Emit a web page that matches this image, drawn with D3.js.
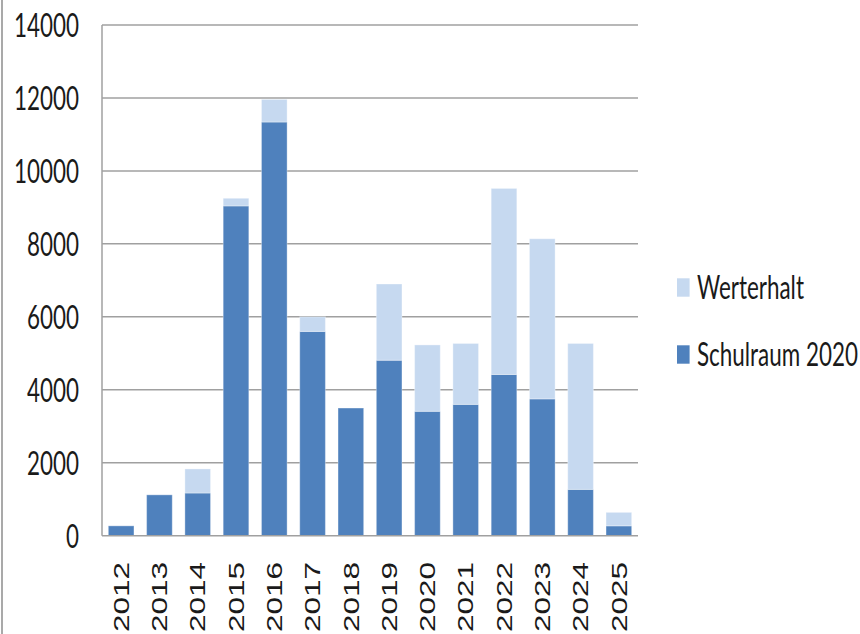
<!DOCTYPE html>
<html><head><meta charset="utf-8">
<script src="https://cdn.jsdelivr.net/npm/d3@7"></script>
<style>body{margin:0;background:#fff}svg{display:block}</style>
</head><body>
<script>
const categories = ["2012","2013","2014","2015","2016","2017","2018","2019","2020","2021","2022","2023","2024","2025"];
const schulraum = [270,1120,1170,9040,11340,5600,3500,4810,3410,3600,4420,3750,1270,270];
const werterhalt = [0,0,660,210,620,400,0,2090,1820,1670,5100,4390,4000,370];
const seriesNames = ["Schulraum 2020","Werterhalt"];
const yTicks = [0,2000,4000,6000,8000,10000,12000,14000];

const W = 860, H = 634;
const SX = 0.68;
const svg = d3.select("body").append("svg").attr("width", W).attr("height", H);

svg.append("line").attr("x1",2).attr("x2",2).attr("y1",0).attr("y2",H)
  .attr("stroke","#8c8c8c").attr("stroke-width",1.5);

const m = {l:102, r:638, t:25, b:535.7};
const x = d3.scaleBand().domain(categories).range([m.l, m.r]).paddingInner(0.33).paddingOuter(0.165);
const y = d3.scaleLinear().domain([0,14000]).range([m.b, m.t]);

// gridlines
svg.append("g").selectAll("line").data(yTicks.filter(d=>d>0)).join("line")
  .attr("x1", m.l).attr("x2", m.r).attr("y1", d=>y(d)).attr("y2", d=>y(d))
  .attr("stroke","#a0a0a0").attr("stroke-width",1.5);

// y axis
svg.append("line").attr("x1",m.l).attr("x2",m.l).attr("y1",m.t).attr("y2",m.b)
  .attr("stroke","#a0a0a0").attr("stroke-width",1.5);

const ylab = svg.append("g").selectAll("g").data(yTicks).join("g")
  .attr("transform", d=>`translate(79,${y(d)}) scale(${SX},1)`);
ylab.append("text").text(d=>d)
  .attr("text-anchor","end").attr("dy","0.36em")
  .attr("font-family","Lato, 'Liberation Sans', sans-serif").attr("font-size",33)
  .attr("fill","#1a1a1a");

// stacked bars
const data = categories.map((c,i)=>({cat:c, "Schulraum 2020":schulraum[i], "Werterhalt":werterhalt[i]}));
const stack = d3.stack().keys(seriesNames)(data);
const colors = {"Schulraum 2020":"#4f81bd","Werterhalt":"#c6d9f0"};
svg.append("g").selectAll("g").data(stack).join("g")
  .attr("fill", s=>colors[s.key])
  .selectAll("rect").data(s=>s.filter(d=>d[1]-d[0]>0)).join("rect")
  .attr("x", d=>x(d.data.cat)).attr("width", x.bandwidth())
  .attr("y", d=>y(d[1])).attr("height", d=>y(d[0])-y(d[1]))
  .attr("stroke", "rgba(255,255,255,0.35)").attr("stroke-width",1);

// x axis line
svg.append("line").attr("x1",m.l).attr("x2",m.r).attr("y1",m.b).attr("y2",m.b)
  .attr("stroke","#a0a0a0").attr("stroke-width",1.5);

// x labels
const xl = svg.append("g").selectAll("g").data(categories).join("g")
  .attr("transform", d=>`translate(${x(d)+x.bandwidth()/2},562) scale(${SX},1) rotate(-90)`);
xl.append("text").text(d=>d)
  .attr("text-anchor","end").attr("dy","0.36em")
  .attr("font-family","'Liberation Sans', Arial, sans-serif").attr("font-size",31.5)
  .attr("fill","#1a1a1a");

// legend
const legendItems = ["Werterhalt","Schulraum 2020"];
const lg = svg.append("g").selectAll("g").data(legendItems).join("g")
  .attr("transform",(d,i)=>`translate(677,${287.5 + i*67})`);
lg.append("rect").attr("x",0).attr("y",-9.2).attr("width",12.6).attr("height",18.4)
  .attr("fill", d=>colors[d]);
lg.append("g").attr("transform",`translate(20,0) scale(${SX},1)`)
  .append("text").text(d=>d).attr("dy","0.36em")
  .attr("font-family","Lato, 'Liberation Sans', sans-serif").attr("font-size",33)
  .attr("fill","#1a1a1a");
</script>
</body></html>
